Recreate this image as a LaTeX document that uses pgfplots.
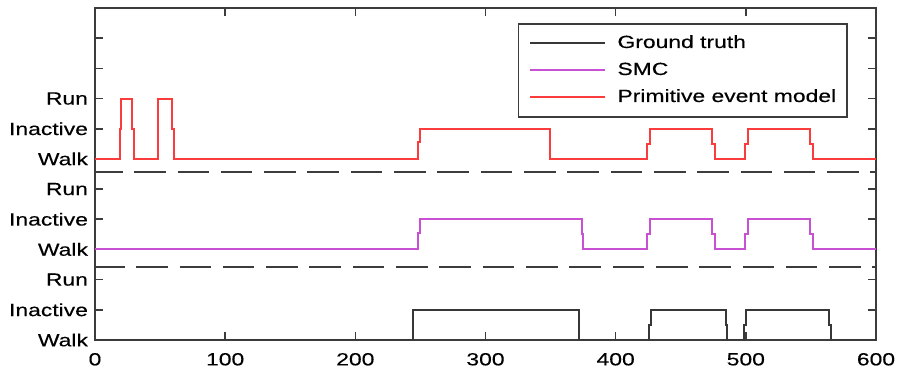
\documentclass[border=0pt]{standalone}
\usepackage{fontspec}
\setmainfont{Liberation Sans}[FakeStretch=1.3, FakeBold=0.3]
\usepackage{pgfplots}
\pgfplotsset{compat=1.18}
\definecolor{pemred}{RGB}{250,60,60}
\definecolor{smcmag}{RGB}{200,80,210}
\definecolor{gtgray}{RGB}{55,55,55}
\definecolor{axgray}{RGB}{60,60,60}
\begin{document}
\begin{tikzpicture}
\path[use as bounding box] (-47.5pt,-17.5pt) rectangle (403pt,170pt);
\begin{axis}[
  at={(0,0)}, anchor=south west,
  scale only axis,
  width=390.5pt, height=166pt,
  xmin=0, xmax=600, ymin=0, ymax=11,
  xtick={0,100,...,600},
  ytick={0,1,2,3,4,5,6,7,8,9,10},
  yticklabels={Walk,Inactive,Run,Walk,Inactive,Run,Walk,Inactive,Run,{},{}},
  tick align=inside,
  major tick length=4pt,
  axis line style={axgray, line width=1pt},
  tick style={axgray, line width=0.8pt},
  tick label style={font=\fontsize{8.8}{9.5}\selectfont, black},
  /pgf/number format/assume math mode=true,
  xticklabel style={yshift=-3pt},
  legend style={at={(1,1)}, anchor=north east, xshift=-14pt, yshift=-7.5pt,
    draw=axgray, line width=0.8pt, font=\fontsize{8.8}{9.5}\selectfont,
    inner xsep=5.5pt, inner ysep=3pt, column sep=5.5pt,
    nodes={text height=6.5pt, text depth=1.8pt, inner ysep=2.6pt, inner xsep=0pt}},
  legend cell align=left,
  legend image code/.code={\draw[#1] (0pt,0pt) -- (37.5pt,0pt);},
]
\addplot[gtgray, line width=1pt] coordinates {
(0,0)(244.5,0)(244.5,1)(371.8,1)(371.8,0)(425.5,0)(425.5,0.5)(427,0.5)(427,1)
(484.7,1)(484.7,0.5)(485.7,0.5)(485.7,0)(498.8,0)(498.8,0.5)(500.2,0.5)(500.2,1)
(564.2,1)(564.2,0.5)(565.4,0.5)(565.4,0)(600,0)};
\addlegendentry{Ground truth}
\addplot[smcmag, line width=1pt] coordinates {
(0,3)(248,3)(248,3.55)(250,3.55)(250,4)(374,4)(374,3.5)(375,3.5)(375,3)
(424,3)(424,3.5)(426,3.5)(426,4)(474,4)(474,3.5)(476,3.5)(476,3)
(499.5,3)(499.5,3.5)(501.5,3.5)(501.5,4)(549.5,4)(549.5,3.5)(551.5,3.5)(551.5,3)(600,3)};
\addlegendentry{SMC}
\addplot[pemred, line width=1pt] coordinates {
(0,6)(19,6)(19,7)(20,7)(20,8)(28.5,8)(28.5,7)(30,7)(30,6)
(48.5,6)(48.5,8)(59,8)(59,7)(60.5,7)(60.5,6)
(248,6)(248,6.55)(250,6.55)(250,7)(349.6,7)(349.6,6)
(424,6)(424,6.5)(426,6.5)(426,7)(474,7)(474,6.5)(476,6.5)(476,6)
(499.5,6)(499.5,6.5)(501.5,6.5)(501.5,7)(549.5,7)(549.5,6.5)(551.5,6.5)(551.5,6)(600,6)};
\addlegendentry{Primitive event model}
\addplot[axgray, line width=1pt, dash pattern=on 15.8pt off 5.85pt, dash phase=2pt, forget plot] coordinates {(0,5.57)(600,5.57)};
\addplot[axgray, line width=1pt, dash pattern=on 15.8pt off 5.85pt, dash phase=1pt, forget plot] coordinates {(0,2.42)(600,2.42)};
\end{axis}
\end{tikzpicture}
\end{document}
